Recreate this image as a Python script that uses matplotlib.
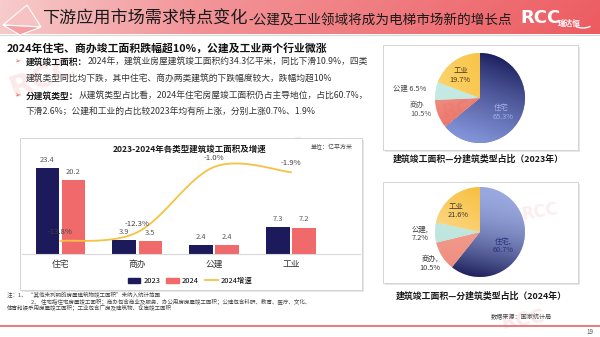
import numpy as np
import matplotlib
matplotlib.use('Agg')
import matplotlib.pyplot as plt
from matplotlib.patches import Rectangle, Polygon, Patch, Arc
from matplotlib.lines import Line2D
from matplotlib.colors import to_rgb

plt.rcParams['font.family'] = ['Noto Sans CJK SC', 'DejaVu Sans']

# ---------------- data ----------------
categories = ['住宅', '商办', '公建', '工业']
area_2023 = [23.4, 3.9, 2.4, 7.3]
area_2024 = [20.2, 3.5, 2.4, 7.2]
growth_2024 = [-13.8, -12.3, -1.0, -1.9]
growth_labels = ['-13.8%', '-12.3%', '-1.0%', '-1.9%']
legend_labels = ['2023', '2024', '2024增速']

pie_labels = ['住宅', '商办', '公建', '工业']
share_2023 = [65.3, 10.5, 6.5, 19.7]
share_2024 = [60.7, 10.5, 7.2, 21.6]

title_main = '下游应用市场需求特点变化'
title_sub = '-公建及工业领域将成为电梯市场新的增长点'
headline = '2024年住宅、商办竣工面积跌幅超10%，公建及工业两个行业微涨'
bullet1_label = '建筑竣工面积：'
bullet1_l1 = '2024年，建筑业房屋建筑竣工面积约34.3亿平米，同比下滑10.9%，四类'
bullet1_l2 = '建筑类型同比均下跌，其中住宅、商办两类建筑的下跌幅度较大，跌幅均超10%'
bullet2_label = '分建筑类型：'
bullet2_l1 = '从建筑类型占比看，2024年住宅房屋竣工面积仍占主导地位，占比60.7%，'
bullet2_l2 = '下滑2.6%；公建和工业的占比较2023年均有所上涨，分别上涨0.7%、1.9%'
bar_title = '2023-2024年各类型建筑竣工面积及增速'
unit_text = '单位：亿平方米'
pie_title_2023 = '建筑竣工面积—分建筑类型占比（2023年）'
pie_title_2024 = '建筑竣工面积—分建筑类型占比（2024年）'
note1 = '注：1、 “其他未列明的房屋建筑物竣工面积”未纳入统计范围'
note2 = '2、 住宅指住宅房屋竣工面积；商办包含商业及服务、办公用房房屋竣工面积；公建包含科研、教育、医疗、文化、'
note3 = '体育和娱乐用房屋竣工面积；工业包含厂房及建筑物、仓库竣工面积'
source_text = '数据来源：国家统计局'
page_no = '19'

# ---------------- figure ----------------
W, H = 600, 337
fig = plt.figure(figsize=(6, 3.37), dpi=100)
fig.patch.set_facecolor('white')

def add_axes_px(x0, y0, x1, y1, **kw):
    return fig.add_axes([x0 / W, 1 - y1 / H, (x1 - x0) / W, (y1 - y0) / H], **kw)

bg = fig.add_axes([0, 0, 1, 1], zorder=0)
bg.axis('off')

# header gradient
xs = np.linspace(0, 1, 400)
stops = [(0.0, '#f7caca'), (0.33, '#f29296'), (1.0, '#ec5b60')]
cols = np.zeros((len(xs), 3))
for i in range(3):
    cols[:, i] = np.interp(xs, [s[0] for s in stops], [to_rgb(s[1])[i] for s in stops])
ys = np.linspace(0, 1, 30)
img = cols[None, :, :] * (0.97 + 0.03 * ys[:, None, None])
img = np.clip(img + (1 - ys[:, None, None]) * 0.03, 0, 1)
bg.imshow(img, extent=(0, 600, 34, 0), aspect='auto', zorder=0)
bg.set_xlim(0, W)
bg.set_ylim(H, 0)
bg.plot([0, 600], [34.5, 34.5], color='#d9d9d9', lw=0.8, zorder=1)

# left icon
bg.add_patch(Polygon([(3, 25), (27, 5), (41, 27)], closed=True, fc='#f7c2c4', ec='white', lw=0.8, zorder=2))
bg.add_patch(Polygon([(3, 25), (41, 27), (20, 35)], closed=True, fc='#f2a0a4', ec='white', lw=0.8, zorder=2))

renderer = fig.canvas.get_renderer()
def right_of(t):
    return t.get_window_extent(renderer=renderer).x1

t = bg.text(42, 19, title_main, fontsize=12.3, color='#1a1a1a', va='center', ha='left', zorder=3)
bg.text(right_of(t) + 1, 20, title_sub, fontsize=9.8, color='#1a1a1a', va='center', ha='left', zorder=3)

# logo
bg.text(520, 18, 'RCC', fontsize=13, weight='bold', color='white', va='center', ha='left',
        family='DejaVu Sans', zorder=3)
bg.text(558, 23, '瑞达恒', fontsize=5.5, color='white', weight='bold', va='center', ha='left', zorder=3)
bg.add_patch(Arc((583, 20), 24, 16, theta1=40, theta2=140, color='white', lw=1.0, zorder=3))

# watermarks
wm = dict(color='#e8505a', alpha=0.12, weight='bold', family='DejaVu Sans', zorder=1.5)
for (x, y, s, r) in [(5, 78, 22, 20), (30, 192, 18, 15), (260, 148, 14, 10), (262, 272, 20, 15),
                     (500, 320, 14, 10)]:
    bg.text(x, y, 'RCC', fontsize=s, rotation=r, va='center', ha='left', **wm)

# headline & bullets
bg.text(7, 48, headline, fontsize=7.8, weight='bold', color='#111111', va='center', ha='left', zorder=3)

def rich(x, y, parts):
    for s, kw in parts:
        tt = bg.text(x, y, s, va='center', ha='left', zorder=3, **kw)
        x = right_of(tt)

bul = dict(fontsize=5.2, color='#e0502f', family='DejaVu Sans')
lab = dict(fontsize=6.3, color='#1a1a1a', weight='bold')
body = dict(fontsize=6.3, color='#333333')
bg.text(14, 62, '➢', va='center', ha='left', zorder=3, **bul)
rich(26, 62, [(bullet1_label, lab), (bullet1_l1, body)])
rich(26, 78, [(bullet1_l2, body)])
bg.text(14, 96, '➢', va='center', ha='left', zorder=3, **bul)
rich(26, 96, [(bullet2_label, lab), (bullet2_l1, body)])
rich(26, 112, [(bullet2_l2, body)])

# panels
def panel(x0, y0, x1, y1):
    bg.add_patch(Rectangle((x0 + 2, y0 + 2), x1 - x0, y1 - y0, fc='#e6e6e6', ec='none', zorder=1.8))
    bg.add_patch(Rectangle((x0, y0), x1 - x0, y1 - y0, fc='white', ec='#d4d4d4', lw=0.7, zorder=1.9))

panel(20, 138, 362, 290)
panel(383, 45, 578, 150)
panel(383, 182, 578, 283)

# ---------------- bar chart ----------------
ax = add_axes_px(22, 160, 360, 254, zorder=2)
ax.patch.set_alpha(0)
xpos = np.arange(len(categories))
bw = 0.305
off = 0.17
c23, c24, cl = '#1d1a5c', '#f06a6c', '#f5c242'
b1 = ax.bar(xpos - off, area_2023, bw, color=c23)
b2 = ax.bar(xpos + off, area_2024, bw, color=c24)
for bars, vals in [(b1, area_2023), (b2, area_2024)]:
    for r, v in zip(bars, vals):
        ax.annotate(f'{v:.1f}', (r.get_x() + r.get_width() / 2, v), xytext=(0, 3),
                    textcoords='offset points', ha='center', va='bottom', fontsize=5.4, color='#595959')
ax.set_xlim(-0.5, 3.9)
ax.set_ylim(0, 25.7)
ax.set_xticks(xpos)
ax.set_xticklabels(categories, fontsize=6.3, color='#333333')
ax.tick_params(axis='x', length=0, pad=4)
ax.set_yticks([])
for s in ['top', 'left', 'right']:
    ax.spines[s].set_visible(False)
ax.spines['bottom'].set_color('#d9d9d9')
ax.spines['bottom'].set_linewidth(0.8)

ax2 = ax.twinx()
ax2.set_ylim(-16.05, 0.21)
ax2.axis('off')
# smooth (Bezier, Excel-like) rendering of the growth line through the data points
P = np.column_stack([xpos.astype(float), np.array(growth_2024, float)])
curve = []
for i in range(len(P) - 1):
    p0 = P[i - 1] if i > 0 else P[i]
    p1, p2 = P[i], P[i + 1]
    p3 = P[i + 2] if i + 2 < len(P) else P[i + 1]
    c1 = p1 + (p2 - p0) / 6
    c2 = p2 - (p3 - p1) / 6
    tt = np.linspace(0, 1, 40)[:, None]
    seg = (1 - tt) ** 3 * p1 + 3 * (1 - tt) ** 2 * tt * c1 + 3 * (1 - tt) * tt ** 2 * c2 + tt ** 3 * p2
    curve.append(seg)
curve = np.vstack(curve)
ax2.plot(curve[:, 0], curve[:, 1], color=cl, lw=1.3)
for x, v, s in zip(xpos, growth_2024, growth_labels):
    ax2.annotate(s, (x, v), xytext=(0, 6.3), textcoords='offset points', ha='center', va='center',
                 fontsize=5.6, color='#404040')

# ---------------- pies ----------------
def grad_img(c1, c2, dx, dy, gamma=1.0, n=160):
    g = np.linspace(-1, 1, n)
    X, Y = np.meshgrid(g, g)
    d = np.array([dx, dy]) / np.hypot(dx, dy)
    tt = np.clip((X * d[0] + Y * d[1] + 1) / 2, 0, 1) ** gamma
    tt = tt[..., None]
    return np.array(to_rgb(c1)) * (1 - tt) + np.array(to_rgb(c2)) * tt

def draw_pie(cx, cy, r, values, grads):
    pa = add_axes_px(cx - 50, cy - 50, cx + 50, cy + 50, zorder=2)
    pa.patch.set_alpha(0)
    flat = [g[0] for g in grads]
    wedges, _ = pa.pie(values, startangle=90, counterclock=False, colors=flat, radius=1,
                       wedgeprops=dict(linewidth=0.3, edgecolor='white'))
    for w, g in zip(wedges, grads):
        im = pa.imshow(grad_img(*g), extent=(-1, 1, -1, 1), origin='lower', zorder=w.get_zorder() + 0.1)
        im.set_clip_path(w)
    lim = 50 / r
    pa.set_xlim(-lim, lim)
    pa.set_ylim(-lim, lim)
    pa.set_aspect('equal')
    pa.axis('off')

draw_pie(480, 98, 45, share_2023, [
    ('#1b1e5c', '#8496dc', -0.35, -1, 0.8),
    ('#f4a493', '#e6645a', 0.3, -1, 1.0),
    ('#cdeee8', '#b9e4dc', 0, -1, 1.0),
    ('#f8bb2c', '#fbd676', -1, -0.3, 1.0)])
draw_pie(480, 232, 45, share_2024, [
    ('#9aa8e0', '#1e225c', -0.2, -1, 1.8),
    ('#f5ab9c', '#ee8a7c', 0, -1, 1.0),
    ('#c8ebe4', '#b7e2da', 0, -1, 1.0),
    ('#f8bd38', '#fde1a2', -0.6, -1, 1.0)])

# ---------------- overlay texts ----------------
top = fig.add_axes([0, 0, 1, 1], zorder=5)
top.set_xlim(0, W)
top.set_ylim(H, 0)
top.axis('off')
top.patch.set_alpha(0)

top.text(190, 149, bar_title, fontsize=6.1, weight='bold', color='#1a1a1a', va='center', ha='center')
top.text(311, 147, unit_text, fontsize=4.3, color='#444444', va='center', ha='left')

handles = [Patch(color=c23), Patch(color=c24), Line2D([0], [0], color=cl, lw=1.3)]
top.legend(handles, legend_labels, loc='center', bbox_to_anchor=(190 / W, 1 - 281 / H),
           bbox_transform=fig.transFigure, ncol=3, frameon=False, fontsize=5.4,
           handlelength=1.7, handleheight=0.6, columnspacing=0.8, handletextpad=0.4)

nk = dict(fontsize=4.0, color='#444444', va='center', ha='left')
top.text(7, 295, note1, **nk)
top.text(31, 301.5, note2, **nk)
top.text(7, 308, note3, **nk)

pl = dict(fontsize=5.3, va='center', ha='center')
# 2023 labels
top.text(461, 71, pie_labels[3], color='#4a3b1c', **pl)
top.text(460, 79.5, f'{share_2023[3]}%', color='#4a3b1c', **pl)
top.text(410, 89, f'{pie_labels[2]} {share_2023[2]}%', color='#444444', **pl)
top.text(417, 105, pie_labels[1], color='#555555', **pl)
top.text(421, 114, f'{share_2023[1]}%', color='#555555', **pl)
top.text(501, 108, pie_labels[0], color='#a3b0e4', **pl)
top.text(503, 117, f'{share_2023[0]}%', color='#a3b0e4', **pl)
# 2024 labels
top.text(456, 207, pie_labels[3], color='#3a3a3a', **pl)
top.text(458, 215, f'{share_2024[3]}%', color='#3a3a3a', **pl)
top.text(420, 229.5, pie_labels[2] + ',', color='#3a3a3a', **pl)
top.text(420, 237.5, f'{share_2024[2]}%', color='#3a3a3a', **pl)
top.text(430, 259, pie_labels[1] + ',', color='#3a3a3a', **pl)
top.text(430, 267.5, f'{share_2024[1]}%', color='#3a3a3a', **pl)
top.text(503, 242, pie_labels[0] + ',', color='#26337f', **pl)
top.text(503, 250.5, f'{share_2024[0]}%', color='#26337f', **pl)

# pie watermarks
wm2 = dict(color='#e8505a', alpha=0.10, weight='bold', family='DejaVu Sans')
top.text(440, 108, 'RCC', fontsize=14, rotation=12, va='center', ha='left', **wm2)
top.text(520, 212, 'RCC', fontsize=12, rotation=10, va='center', ha='left', **wm2)

top.text(478, 159, pie_title_2023, fontsize=6.4, weight='bold', color='#1a1a1a', va='center', ha='center')
top.text(481, 296, pie_title_2024, fontsize=6.4, weight='bold', color='#1a1a1a', va='center', ha='center')

top.text(552, 317, source_text, fontsize=4.4, color='#444444', va='center', ha='right')
top.plot([0, 600], [326, 326], color='#e25a5a', lw=1.1)
top.text(593, 332, page_no, fontsize=4.5, color='#555555', va='center', ha='right')

fig.savefig('out.png', dpi=100)
